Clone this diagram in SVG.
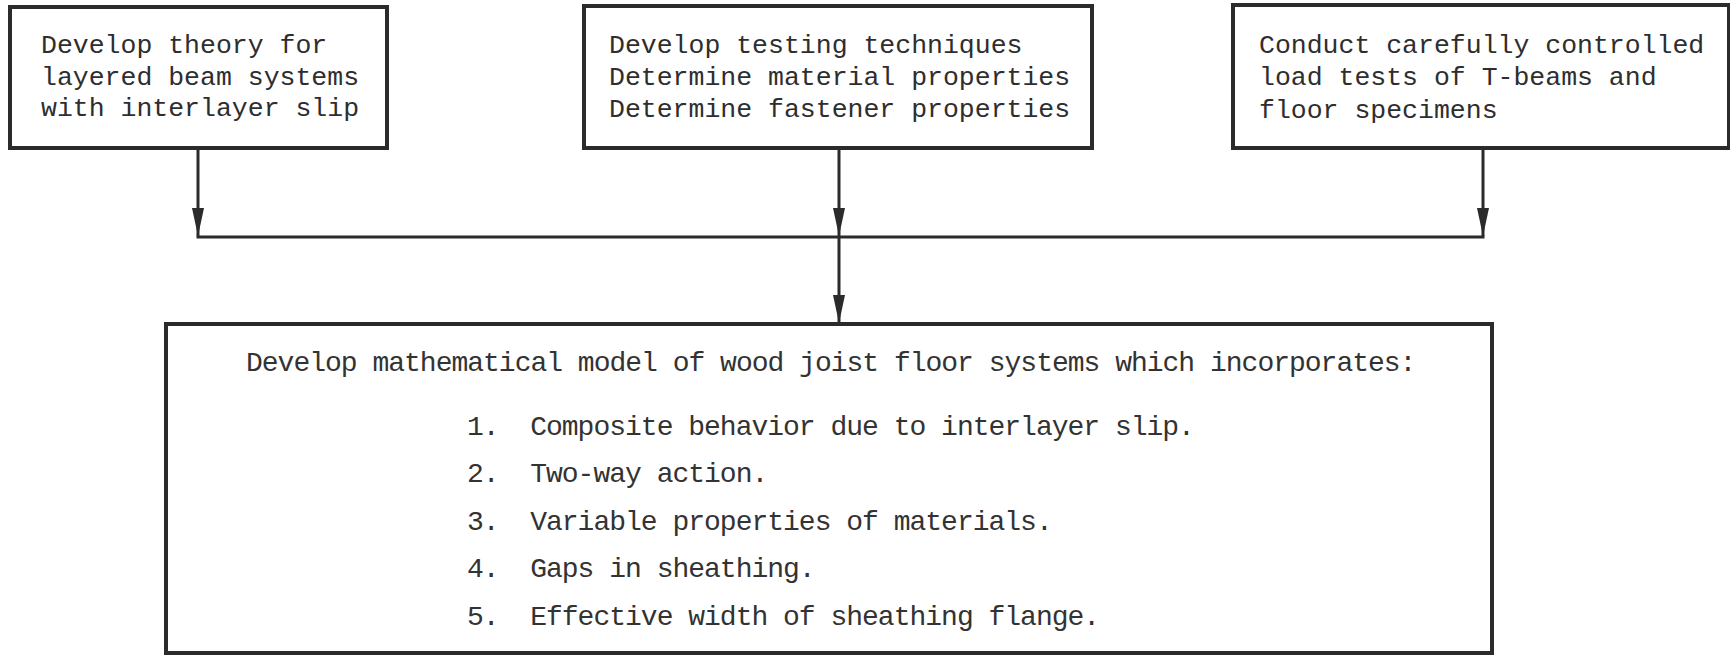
<svg xmlns="http://www.w3.org/2000/svg" width="1730" height="656" viewBox="0 0 1730 656">
<style>
.box{fill:#fff;stroke:#2b2b2b;stroke-width:4}
.t{font-family:"Liberation Mono","DejaVu Sans Mono",monospace;font-size:26.5px;fill:#2e2e2e;white-space:pre}
.b{font-family:"Liberation Mono","DejaVu Sans Mono",monospace;font-size:28px;letter-spacing:-1px;fill:#333;white-space:pre}
.c{stroke:#2b2b2b;stroke-width:3;fill:none}
</style>
<defs>
<marker id="ah" markerUnits="userSpaceOnUse" markerWidth="28" markerHeight="12" refX="28" refY="6" orient="auto" viewBox="0 0 28 12">
<path d="M0,0 L28,6 L0,12 Z" fill="#2b2b2b"/>
</marker>
</defs>
<rect width="1730" height="656" fill="#fff"/>
<g id="connectors">
<line class="c" x1="198" y1="148" x2="198" y2="236" marker-end="url(#ah)"/>
<line class="c" x1="839" y1="148" x2="839" y2="236" marker-end="url(#ah)"/>
<line class="c" x1="1483" y1="148" x2="1483" y2="236" marker-end="url(#ah)"/>
<line class="c" x1="196.5" y1="237" x2="1484.5" y2="237"/>
<line class="c" x1="839" y1="237" x2="839" y2="323" marker-end="url(#ah)"/>
</g>
<g id="node-theory">
<rect class="box" x="10" y="7" width="377" height="141"/>
<text class="t" x="41" y="53">Develop theory for</text>
<text class="t" x="41" y="85">layered beam systems</text>
<text class="t" x="41" y="116">with interlayer slip</text>
</g>
<g id="node-testing">
<rect class="box" x="584" y="6" width="508" height="142"/>
<text class="t" x="609" y="53">Develop testing techniques</text>
<text class="t" x="609" y="85">Determine material properties</text>
<text class="t" x="609" y="117">Determine fastener properties</text>
</g>
<g id="node-loadtests">
<rect class="box" x="1233" y="5" width="496" height="143"/>
<text class="t" x="1259" y="53">Conduct carefully controlled</text>
<text class="t" x="1259" y="85">load tests of T-beams and</text>
<text class="t" x="1259" y="118">floor specimens</text>
</g>
<g id="node-model">
<rect class="box" x="166" y="324" width="1326" height="329"/>
<text class="b" x="246" y="371">Develop mathematical model of wood joist floor systems which incorporates:</text>
<text class="b" x="467" y="435">1.  Composite behavior due to interlayer slip.</text>
<text class="b" x="467" y="482">2.  Two-way action.</text>
<text class="b" x="467" y="530">3.  Variable properties of materials.</text>
<text class="b" x="467" y="577">4.  Gaps in sheathing.</text>
<text class="b" x="467" y="625">5.  Effective width of sheathing flange.</text>
</g>
</svg>
